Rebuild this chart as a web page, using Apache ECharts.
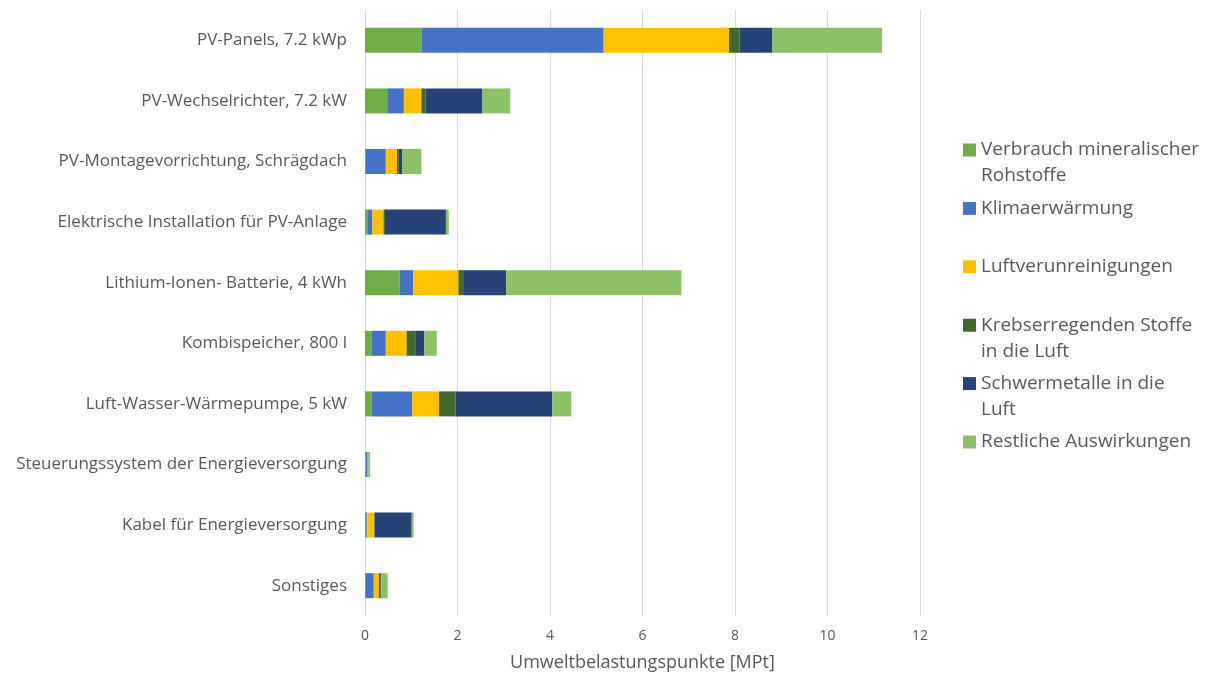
<!DOCTYPE html>
<html><head><meta charset="utf-8">
<script src="https://cdn.jsdelivr.net/npm/echarts@6/dist/echarts.min.js"></script>
<style>html,body{margin:0;padding:0;background:#fff}#c{width:1210px;height:677px}</style>
</head><body><div id="c"></div>
<script>
const categories = ["PV-Panels, 7.2 kWp","PV-Wechselrichter, 7.2 kW","PV-Montagevorrichtung, Schrägdach","Elektrische Installation für PV-Anlage","Lithium-Ionen- Batterie, 4 kWh","Kombispeicher, 800 l","Luft-Wasser-Wärmepumpe, 5 kW","Steuerungssystem der Energieversorgung","Kabel für Energieversorgung","Sonstiges"];
const seriesNames = ["Verbrauch mineralischer Rohstoffe","Klimaerwärmung","Luftverunreinigungen","Krebserregenden Stoffe in die Luft","Schwermetalle in die Luft","Restliche Auswirkungen"];
const mineral   = [1.22, 0.48, 0.02, 0.05, 0.75, 0.14, 0.14, 0.02, 0.03, 0.02];
const klima     = [3.94, 0.36, 0.43, 0.11, 0.29, 0.31, 0.88, 0.03, 0.02, 0.17];
const luft      = [2.71, 0.38, 0.24, 0.24, 0.98, 0.45, 0.58, 0.01, 0.15, 0.11];
const krebs     = [0.23, 0.09, 0.04, 0.03, 0.12, 0.20, 0.36, 0.00, 0.01, 0.04];
const schwer    = [0.71, 1.23, 0.07, 1.32, 0.91, 0.18, 2.09, 0.01, 0.80, 0.01];
const rest      = [2.37, 0.60, 0.42, 0.06, 3.79, 0.27, 0.41, 0.04, 0.04, 0.14];
const xTicks = [0, 2, 4, 6, 8, 10, 12];
const colors = ["#70AD47","#4472C4","#FFC000","#43682B","#264478","#8CC168"];
const legendFirst = ["Verbrauch mineralischer","Klimaerwärmung","Luftverunreinigungen","Krebserregenden Stoffe","Schwermetalle in die","Restliche Auswirkungen"];
const legendSecond = ["Rohstoffe","","","in die Luft","Luft",""];

const values = [mineral, klima, luft, krebs, schwer, rest];
const FONT = "'Open Sans'";
const chart = echarts.init(document.getElementById('c'));
const series = seriesNames.map((n,i)=>({
  name: n, type: 'bar', stack: 'total', data: values[i], barWidth: 25,
  itemStyle: {color: colors[i]}
}));
const legTop = 137, legStep = 58.4, legLH = 26;
const graphics = [];
legendSecond.forEach((t,i)=>{
  if (t) graphics.push({type:'text', left: 981, top: legTop + i*legStep + legLH,
    style:{text:t, fill:'#595959', fontFamily:'Open Sans', fontSize:19, lineHeight:legLH}});
});
chart.setOption({
  animation: false,
  color: colors,
  grid: {left: 365, right: 290, top: 10, bottom: 52, containLabel: false},
  xAxis: {type:'value', min: 0, max: 12, interval: 2,
    axisLine:{show:false}, axisTick:{show:false},
    splitLine:{lineStyle:{color:'#d9d9d9', width:1}},
    axisLabel:{color:'#595959', fontFamily:FONT, fontSize:14, margin:13,
      formatter: v => xTicks.includes(v) ? String(v) : ''},
    name:'Umweltbelastungspunkte [MPt]', nameLocation:'middle', nameGap:38,
    nameTextStyle:{color:'#595959', fontFamily:FONT, fontSize:18}},
  yAxis: {type:'category', data: categories, inverse: true,
    axisLine:{show:false}, axisTick:{show:false},
    axisLabel:{color:'#595959', fontFamily:FONT, fontSize:17, margin:18}},
  legend: {orient:'vertical', left: 963, top: legTop, padding: 0, itemWidth: 13, itemHeight: 13,
    itemGap: legStep - legLH, icon:'rect',
    formatter: n => legendFirst[seriesNames.indexOf(n)],
    textStyle:{color:'#595959', fontFamily:FONT, fontSize:19, lineHeight:legLH},
    data: seriesNames},
  graphic: graphics,
  series: series
});
</script></body></html>
